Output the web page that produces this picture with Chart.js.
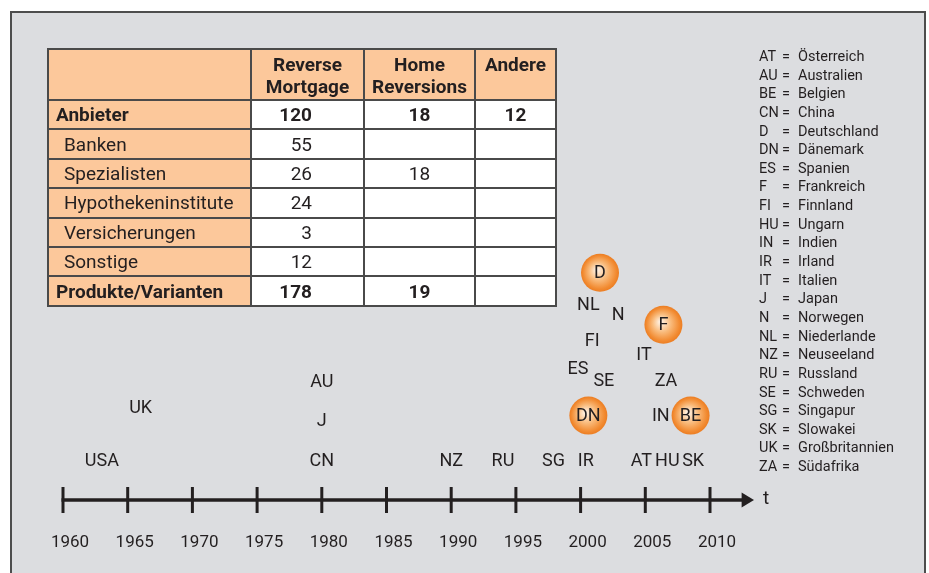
<!DOCTYPE html>
<html lang="de">
<head>
<meta charset="utf-8">
<title>Reverse Mortgage – Anbieter und Markteinführung</title>
<script src="https://cdn.jsdelivr.net/npm/chart.js@4.4.1/dist/chart.umd.min.js"></script>
<style>
  html, body { margin: 0; padding: 0; background: #fff; }
  body { position: relative; width: 929px; height: 573px; overflow: hidden;
         font-family: Roboto, 'Liberation Sans', sans-serif; color: #231f20; }
  #panel { position: absolute; left: 10px; top: 11px; width: 916px; height: 600px;
           background: #dcdde0; border: 2px solid #4d4d4d; box-sizing: border-box; }
  #wrap { position: absolute; left: 0; top: 0; width: 929px; height: 600px; }
  #tabelle { position: absolute; left: 47px; top: 48px; width: 508px; border-collapse: collapse;
             table-layout: fixed; font-size: 19px; z-index: 2; }
  #tabelle th, #tabelle td { border: 2px solid #4a4a4a; padding: 0; background: #fff; }
  #tabelle th { background: #fcc89b; vertical-align: top; line-height: 22px; padding-top: 4px;
                height: 45px; font-weight: bold; text-align: center; }
  #tabelle td { height: 27.4px; line-height: 27px; text-align: center; }
  #tabelle td.kopf { background: #fcc89b; text-align: left; padding-left: 15px; }
  #tabelle tr.fett td { font-weight: bold; }
  #tabelle tr.fett td.kopf { padding-left: 7px; }
  #tabelle td.rm { text-align: right; padding-right: 51px; }
  #legende { position: absolute; left: 759px; top: 48px; font-size: 14.5px; line-height: 18.64px; z-index: 2; }
  #legende div { white-space: nowrap; }
  #legende .k { display: inline-block; width: 23px; }
  #legende .g { display: inline-block; width: 16px; }
</style>
</head>
<body>
<div id="panel"></div>
<div id="wrap"><canvas id="zeitstrahl"></canvas></div>
<table id="tabelle">
  <colgroup><col style="width:203px"><col style="width:113px"><col style="width:111px"><col style="width:81px"></colgroup>
  <thead><tr id="kopfzeile"></tr></thead>
  <tbody id="koerper"></tbody>
</table>
<div id="legende"></div>
<script>
// Tabelle: Anbieter und Produkte
const spalten = ['', 'Reverse<br>Mortgage', 'Home<br>Reversions', 'Andere'];
const zeilen = ['Anbieter', 'Banken', 'Spezialisten', 'Hypothekeninstitute', 'Versicherungen', 'Sonstige', 'Produkte/Varianten'];
const fettZeilen = ['Anbieter', 'Produkte/Varianten'];
const reverseMortgage = [120, 55, 26, 24, 3, 12, 178];
const homeReversions = [18, null, 18, null, null, null, 19];
const andere = [12, null, null, null, null, null, null];

// Zeitstrahl: Markteinführung nach Land (Jahr, Stapelebene)
const laender = ['USA', 'UK', 'AU', 'J', 'CN', 'NZ', 'RU', 'SG', 'IR', 'DN', 'ES', 'SE', 'FI', 'NL', 'N', 'D',
                 'F', 'IT', 'ZA', 'IN', 'BE', 'AT', 'HU', 'SK'];
const jahre = [1963.0, 1966.0, 1980.0, 1980.0, 1980.0, 1990.0, 1994.0, 1997.9, 2000.4, 2000.6, 1999.8, 2001.8,
               2000.9, 2000.6, 2002.9, 2001.5, 2006.4, 2004.9, 2006.6, 2006.2, 2008.5, 2004.7, 2006.7, 2008.7];
const ebenen = [1.0, 2.31, 2.96, 2.0, 1.0, 1.0, 1.0, 1.0, 1.0, 2.11, 3.3, 2.98, 3.98, 4.88, 4.63, 5.68,
                4.38, 3.65, 2.98, 2.11, 2.11, 1.0, 1.0, 1.0];
const markiert = ['D', 'DN', 'F', 'BE'];
const jahresTicks = [1960, 1965, 1970, 1975, 1980, 1985, 1990, 1995, 2000, 2005, 2010];

// Legende der Länderkürzel
const kuerzel = ['AT', 'AU', 'BE', 'CN', 'D', 'DN', 'ES', 'F', 'FI', 'HU', 'IN', 'IR', 'IT', 'J', 'N', 'NL',
                 'NZ', 'RU', 'SE', 'SG', 'SK', 'UK', 'ZA'];
const landNamen = ['Österreich', 'Australien', 'Belgien', 'China', 'Deutschland', 'Dänemark', 'Spanien',
                   'Frankreich', 'Finnland', 'Ungarn', 'Indien', 'Irland', 'Italien', 'Japan', 'Norwegen',
                   'Niederlande', 'Neuseeland', 'Russland', 'Schweden', 'Singapur', 'Slowakei',
                   'Großbritannien', 'Südafrika'];

// Tabelle aufbauen
document.getElementById('kopfzeile').innerHTML = spalten.map(s => '<th>' + s + '</th>').join('');
document.getElementById('koerper').innerHTML = zeilen.map((z, i) => {
  const fett = fettZeilen.includes(z) ? ' class="fett"' : '';
  return '<tr' + fett + '><td class="kopf">' + z + '</td>' +
    '<td class="rm">' + (reverseMortgage[i] ?? '') + '</td>' +
    '<td>' + (homeReversions[i] ?? '') + '</td>' +
    '<td>' + (andere[i] ?? '') + '</td></tr>';
}).join('');

// Legende aufbauen
document.getElementById('legende').innerHTML = kuerzel.map((k, i) =>
  '<div><span class="k">' + k + '</span><span class="g">=</span>' + landNamen[i] + '</div>').join('');

const punkte = laender.map((l, i) => ({ x: jahre[i], y: ebenen[i] }));
const kreise = laender.map((l, i) => ({ x: jahre[i], y: ebenen[i], l })).filter(p => markiert.includes(p.l));

// orange Kugeln mit radialem Verlauf
function kugel(context) {
  const chart = context.chart;
  if (!chart.chartArea || !context.raw) return '#f28a30';
  const px = chart.scales.x.getPixelForValue(context.raw.x);
  const py = chart.scales.y.getPixelForValue(context.raw.y);
  const g = chart.ctx.createRadialGradient(px - 3, py - 3, 1, px, py, 19);
  g.addColorStop(0, '#fff1e2');
  g.addColorStop(0.45, '#f9bb7c');
  g.addColorStop(0.85, '#f28c33');
  g.addColorStop(1, '#ec7d22');
  return g;
}

// Zeitachse mit Strichen und Pfeil
const zeitachse = {
  id: 'zeitachse',
  beforeDatasetsDraw(chart) {
    const { ctx, scales: { x, y } } = chart;
    const y0 = y.getPixelForValue(0);
    const xa = x.getPixelForValue(jahresTicks[0]);
    const xb = x.getPixelForValue(2012.6);
    const xs = x.getPixelForValue(2013.4);
    ctx.save();
    ctx.strokeStyle = '#231f20';
    ctx.fillStyle = '#231f20';
    ctx.lineWidth = 3.5;
    ctx.beginPath();
    ctx.moveTo(xa - 1.5, y0);
    ctx.lineTo(xb, y0);
    ctx.stroke();
    ctx.lineWidth = 3;
    jahresTicks.forEach(j => {
      const px = x.getPixelForValue(j);
      ctx.beginPath();
      ctx.moveTo(px, y0 - 13);
      ctx.lineTo(px, y0 + 13);
      ctx.stroke();
    });
    ctx.beginPath();
    ctx.moveTo(xb - 2, y0 - 7.5);
    ctx.lineTo(xs, y0);
    ctx.lineTo(xb - 2, y0 + 7.5);
    ctx.closePath();
    ctx.fill();
    ctx.font = '19px Roboto';
    ctx.textAlign = 'left';
    ctx.textBaseline = 'middle';
    ctx.fillText('t', xs + 9, y0 - 1);
    ctx.restore();
  }
};

// Länderkürzel an den Punkten
const beschriftung = {
  id: 'beschriftung',
  afterDatasetsDraw(chart) {
    const ctx = chart.ctx;
    const meta = chart.getDatasetMeta(0);
    ctx.save();
    ctx.font = '18px Roboto';
    ctx.fillStyle = '#231f20';
    ctx.textAlign = 'center';
    ctx.textBaseline = 'middle';
    meta.data.forEach((pt, i) => ctx.fillText(laender[i], pt.x, pt.y + 1));
    ctx.restore();
  }
};

new Chart(document.getElementById('zeitstrahl'), {
  type: 'scatter',
  data: {
    datasets: [
      { label: 'Länder', data: punkte, pointRadius: 0, clip: false },
      { label: 'hervorgehoben', data: kreise, pointRadius: 19, borderWidth: 0,
        backgroundColor: kugel, clip: false }
    ]
  },
  options: {
    responsive: true,
    maintainAspectRatio: false,
    animation: false,
    events: [],
    layout: { padding: { left: 63, right: 219, top: 20, bottom: 13.6 } },
    plugins: { legend: { display: false }, tooltip: { enabled: false } },
    scales: {
      x: {
        type: 'linear',
        min: 1960,
        max: 2010,
        afterBuildTicks: s => { s.ticks = jahresTicks.map(v => ({ value: v })); },
        grid: { display: false, drawTicks: false },
        border: { display: false },
        ticks: {
          padding: 33,
          labelOffset: 7,
          color: '#231f20',
          font: { family: 'Roboto', size: 17 },
          callback: v => String(v)
        }
      },
      y: { display: false, min: 0, max: 12 }
    }
  },
  plugins: [zeitachse, beschriftung]
});
</script>
</body>
</html>
